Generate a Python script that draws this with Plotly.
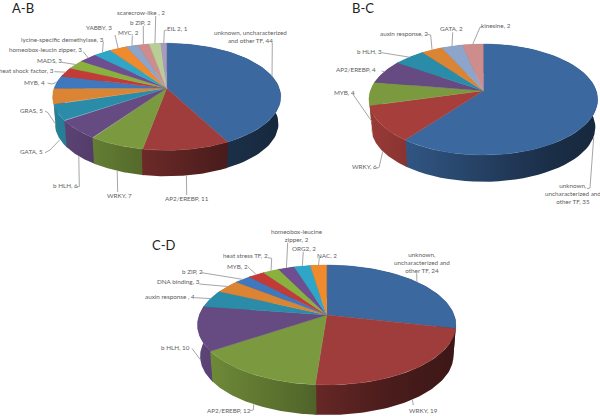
import numpy as np
import plotly.graph_objects as go

# slice names and counts
ab_names = ["unknown, uncharacterized<br>and other TF", "AP2/EREBP", "WRKY", "b HLH", "GATA", "GRAS", "MYB",
            "heat shock factor", "MADS", "homeobox-leucin zipper", "lycine-specific demethylase", "YABBY",
            "MYC", "b ZIP", "scarecrow-like ", "EIL 2"]
ab_values = [44, 11, 7, 6, 5, 5, 4, 3, 3, 3, 3, 3, 2, 2, 2, 1]

bc_names = ["unknown,<br>uncharacterized and<br>other TF", "WRKY", "MYB", "AP2/EREBP", "b HLH", "auxin response",
            "GATA", "kinesine"]
bc_values = [35, 6, 4, 4, 3, 2, 2, 2]

cd_names = ["unknown,<br>uncharacterized and<br>other TF", "WRKY", "AP2/EREBP", "b HLH", "auxin response ",
            "DNA binding", "b ZIP", "MYB", "heat stress TF", "homeobox-leucine<br>zipper", "ORG2", "NAC"]
cd_values = [24, 19, 12, 10, 4, 3, 2, 2, 2, 2, 2, 2]

ab_colors = ["#3b689f", "#9e3d3b", "#7b9a3f", "#664a82", "#2a8ca8", "#db8433", "#3f78bd", "#c23b38", "#8ab040",
             "#6e4e90", "#2fa6c8", "#ef8b2c", "#8da5cb", "#cd8d8c", "#b9cd96", "#a99bbd"]
bc_colors = ["#3b689f", "#a63f3c", "#7b9a3f", "#664a82", "#2a8ca8", "#db8433", "#8da5cb", "#cd8d8c"]
cd_colors = ["#3b689f", "#9e3d3b", "#7b9a3f", "#664a82", "#2a8ca8", "#db8433", "#3f78bd", "#c23b38", "#8ab040",
             "#6e4e90", "#2fa6c8", "#ef8b2c"]

# label centres in page pixels
ab_label_pos = [(250, 36.7), (186.7, 198.7), (119, 195), (65, 185.7), (31.7, 151), (31.7, 110), (34, 82), (26.5, 70.5),
                (49, 60), (45.7, 49.3), (62.7, 39.3), (99, 27.7), (128, 32.3), (140.7, 22.3), (141.3, 12.7), (177.3, 28)]
bc_label_pos = [(573, 193.7), (364.5, 166), (344.3, 92.3), (356, 69.3), (369.5, 51.7), (403.5, 33.3), (451.7, 28.7), (496, 25)]
cd_label_pos = [(421.7, 262.7), (423.3, 410.5), (229, 410.5), (175, 347.7), (169.5, 296.3), (178, 281.7), (192, 271),
                (237, 266.7), (245, 255), (296.7, 235.8), (304, 248.3), (327.3, 255)]

# where each leader line runs to after leaving the rim
ab_leaders = [[(272.3, 43)], [(186.7, 195)], [(117.7, 192)], [(79.3, 186.7), (76.7, 187)], [(50, 150), (45, 152.7)],
              [(48, 112.7), (45, 111)], [(52, 84), (47.5, 83)], [(54.3, 71.7)], [(61.7, 62.3)], [(83.3, 51.7)],
              [(103.3, 41.7)], [(115, 35)], [(132.3, 36)], [(143.3, 26)], [(155.7, 16)], [(164.3, 30.7), (166.7, 30)]]
bc_leaders = [[(590, 188), (587, 188.7)], [(379, 167.7), (376, 168)], [(353, 94.3)], [(381.7, 71)], [(381.7, 52.7)],
              [(430.7, 35), (427.3, 34.3)], [(452.7, 32.3)], [(480, 27.3), (482.7, 26.7)]]
cd_leaders = [[(416.7, 273.3)], [(413.3, 405)], [(253.3, 410), (250, 410.7)], [(192, 348.5)], [(195, 297.7)],
              [(199.3, 284)], [(201.7, 272.7)], [(248, 267)], [(271.7, 258.3), (267.7, 257.7)], [(287.7, 242.7)],
              [(303.3, 251.7)], [(319.3, 257.7), (321, 257)]]

TEXT_COLOR = "#606060"
LEADER_COLOR = "#a6a6a6"
LABEL_FONT = "Lato"


def rim(theta, pie):
    # perspective view of the disc, theta clockwise from 12 o'clock
    sx, sy = np.sin(theta), np.cos(theta)
    div = 1 + pie["k"] * sy
    return pie["ax"] + pie["w"] * sx / div, pie["ay"] - pie["h"] * sy / div


def lower_rim(theta, pie):
    x, y = rim(theta, pie)
    return pie["ax"] + (x - pie["ax"]) * 0.98, pie["ay"] + (y - pie["ay"]) * 0.98 + pie["d"]


def darken(color, f):
    r, g, b = [int(color[i:i + 2], 16) for i in (1, 3, 5)]
    return f"rgb({r * f:.0f},{g * f:.0f},{b * f:.0f})"


def side_shade(x, pie):
    # lit from the left, gets darker going right
    frac = (x - (pie["ax"] - pie["w"])) / (2 * pie["w"])
    return np.interp(frac, [0, 0.5, 0.75, 1], [0.92, 0.62, 0.46, 0.38])


def draw_pie(fig, names, values, colors, label_pos, leaders, pie):
    total = sum(values)
    edges = np.cumsum([0] + values) / total * 2 * np.pi

    # sides first, back ones before the front ones
    order = sorted(range(len(values)), key=lambda i: -np.cos((edges[i] + edges[i + 1]) / 2))
    for i in order:
        # small overlap so no white seam shows between neighbours
        t = np.linspace(edges[i] - 0.006, edges[i + 1] + 0.006, 60)
        ux, uy = rim(t, pie)
        lx, ly = lower_rim(t, pie)
        xs = np.concatenate([ux, lx[::-1], ux[:1]])
        ys = np.concatenate([uy, ly[::-1], uy[:1]])
        x0, x1 = xs.min(), xs.max()
        stops = [[s, darken(colors[i], side_shade(x0 + s * (x1 - x0), pie))] for s in (0, 0.25, 0.5, 0.75, 1)]
        fig.add_trace(go.Scatter(x=xs, y=ys, mode="lines", fill="toself", line=dict(width=0),
                                 fillgradient=dict(type="horizontal", colorscale=stops, start=x0, stop=x1),
                                 hoverinfo="skip"))

    for i in range(len(values)):
        t = np.linspace(edges[i], edges[i + 1], 60)
        ux, uy = rim(t, pie)
        xs = np.concatenate([[pie["ax"]], ux, [pie["ax"]]])
        ys = np.concatenate([[pie["ay"]], uy, [pie["ay"]]])
        fig.add_trace(go.Scatter(x=xs, y=ys, mode="lines", fill="toself", fillcolor=colors[i],
                                 line=dict(width=0.4, color=colors[i]), hoverinfo="skip"))

    for i, (name, val) in enumerate(zip(names, values)):
        mid = (edges[i] + edges[i + 1]) / 2
        start = lower_rim(mid, pie) if np.cos(mid) < 0 else rim(mid, pie)
        pts = [start] + leaders[i]
        fig.add_trace(go.Scatter(x=[p[0] for p in pts], y=[p[1] for p in pts], mode="lines",
                                 line=dict(width=1, color=LEADER_COLOR), hoverinfo="skip"))
        fig.add_annotation(x=label_pos[i][0], y=label_pos[i][1], text=f"{name}, {val}", showarrow=False,
                           xanchor="center", yanchor="middle", align="center",
                           font=dict(family=LABEL_FONT, size=6.3, color=TEXT_COLOR))


fig = go.Figure()
draw_pie(fig, ab_names, ab_values, ab_colors, ab_label_pos, ab_leaders,
         dict(ax=166.7, ay=88.3, w=112.6, h=52.15, k=0.159, d=27.2))
draw_pie(fig, bc_names, bc_values, bc_colors, bc_label_pos, bc_leaders,
         dict(ax=483.3, ay=90.7, w=112.9, h=54.1, k=0.159, d=28))
draw_pie(fig, cd_names, cd_values, cd_colors, cd_label_pos, cd_leaders,
         dict(ax=326.7, ay=315, w=127.4, h=58.3, k=0.1667, d=31.4))

for text, x, y in [("A-B", 23, 8), ("B-C", 363, 8), ("C-D", 164, 244.7)]:
    fig.add_annotation(x=x, y=y, text=text, showarrow=False, xanchor="center", yanchor="middle",
                       font=dict(family=LABEL_FONT, size=13, color="#222222"))

fig.update_layout(
    width=600,
    height=416,
    margin=dict(l=0, r=0, t=0, b=0),
    showlegend=False,
    plot_bgcolor="white",
    paper_bgcolor="white",
    hovermode=False,
    xaxis=dict(range=[0, 600], visible=False, fixedrange=True),
    yaxis=dict(range=[416, 0], visible=False, fixedrange=True),
)
fig.write_html("out.html", config=dict(displayModeBar=False), post_script="document.body.style.margin='0';")
